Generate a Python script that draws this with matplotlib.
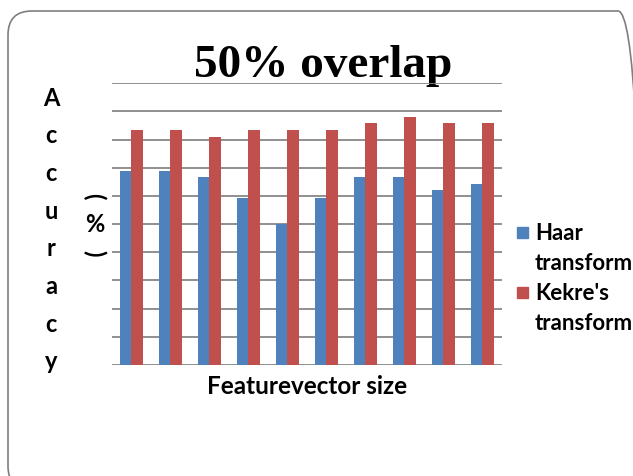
import matplotlib.pyplot as plt
import numpy as np
from matplotlib.patches import FancyBboxPatch, Rectangle

# feature vector sizes (no tick labels shown in the chart)
categories = [1, 2, 3, 4, 5, 6, 7, 8, 9, 10]
haar = [69.0, 69.0, 66.7, 59.4, 50.1, 59.4, 66.7, 66.7, 62.0, 64.3]
kekre = [83.3, 83.3, 80.9, 83.3, 83.3, 83.3, 85.8, 88.0, 85.8, 85.8]
series_names = ["Haar\ntransform", "Kekre's\ntransform"]
colors = ["#4F81BD", "#C0504D"]

W, H = 633, 476
SANS = ["Lato", "DejaVu Sans"]


def main():
    fig = plt.figure(figsize=(W / 100, H / 100), dpi=100)

    # rounded frame, drawn in display pixels (runs off the right/bottom edge)
    frame = FancyBboxPatch((8, H - 490), 634, 479,
                           boxstyle="round,pad=0,rounding_size=24",
                           fill=False, ec="#7f7f7f", lw=1.2, transform=None)
    fig.add_artist(frame)

    # pixel-space helper axes for free text (y downwards like the image)
    bg = fig.add_axes([0, 0, 1, 1])
    bg.set_xlim(0, W)
    bg.set_ylim(H, 0)
    bg.axis("off")

    # plot area
    ax = fig.add_axes([111.7 / W, 1 - 365 / H, 390 / W, 281.7 / H])
    ax.patch.set_alpha(0)
    x = np.arange(len(categories))
    w = 0.29
    ax.bar(x - w / 2, haar, w, color=colors[0], zorder=2)
    ax.bar(x + w / 2, kekre, w, color=colors[1], zorder=2)
    ax.set_xlim(-0.5, len(categories) - 0.5)
    ax.set_ylim(0, 100)
    ax.set_yticks(np.arange(0, 101, 10))
    ax.set_xticks(x)
    ax.yaxis.grid(True, color="#878787", lw=1.3)
    ax.set_axisbelow(True)
    ax.tick_params(length=0, labelleft=False, labelbottom=False)
    for s in ax.spines.values():
        s.set_visible(False)

    # title
    bg.text(323, 77, "50% overlap", ha="center", va="baseline",
            fontsize=34, fontweight="bold", family="Liberation Serif")

    # stacked y label
    for i, ch in enumerate("Accuracy"):
        bg.text(51, 98 + i * 37.7, ch, ha="center", va="center",
                fontsize=17, fontweight="bold", family=SANS)
    bg.text(94, 196, "(", rotation=-90, ha="center", va="center",
            fontsize=17, fontweight="bold", family=SANS)
    bg.text(95, 224, "%", ha="center", va="center",
            fontsize=17, fontweight="bold", family=SANS)
    bg.text(94, 253, ")", rotation=-90, ha="center", va="center",
            fontsize=17, fontweight="bold", family=SANS)

    # x label
    bg.text(307, 387, "Featurevector size", ha="center", va="center",
            fontsize=17.5, fontweight="bold", family=SANS)

    # legend
    for i, (name, c) in enumerate(zip(series_names, colors)):
        y0 = 227 + i * 60
        bg.add_patch(Rectangle((517, y0), 11, 11, color=c))
        bg.text(535, y0 - 4, name, ha="left", va="top", linespacing=1.5,
                fontsize=16, fontweight="bold", family=SANS)

    fig.savefig("out.png", dpi=100)


if __name__ == "__main__":
    main()
